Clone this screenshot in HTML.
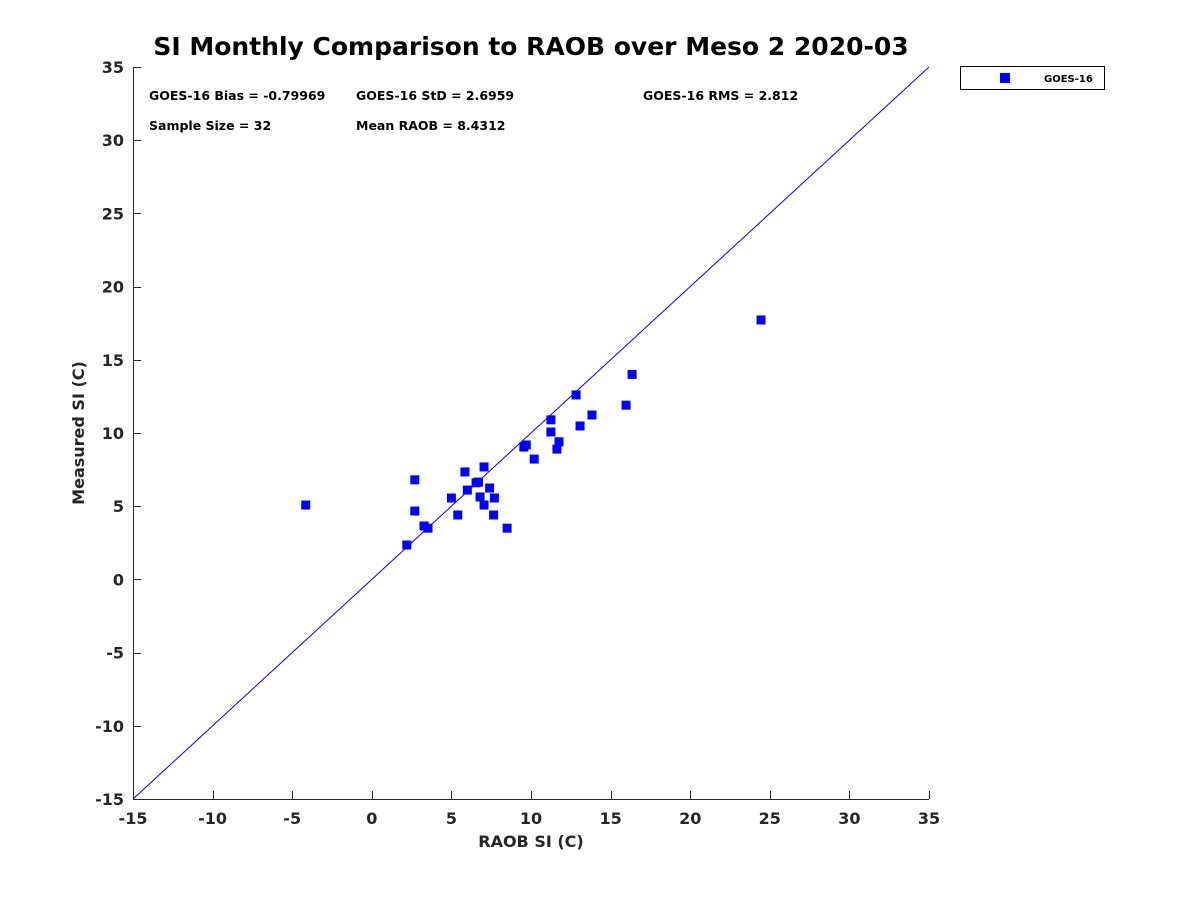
<!DOCTYPE html>
<html><head><meta charset="utf-8"><style>
body{margin:0;background:#fff;font-family:"Liberation Sans","DejaVu Sans",sans-serif}
</style></head><body>
<svg id="c" width="1200" height="900" xmlns="http://www.w3.org/2000/svg">
<rect width="1200" height="900" fill="#fff"/>
<text x="531" y="55" text-anchor="middle" font-family="DejaVu Sans, sans-serif" font-weight="bold" font-size="25" fill="#000">SI Monthly Comparison to RAOB over Meso 2 2020-03</text>
<g id="axes"></g>
<g id="pts"></g>
<g font-family="DejaVu Sans, sans-serif" font-weight="bold" font-size="12.5" fill="#000">
<text x="149" y="100">GOES-16 Bias = -0.79969</text>
<text x="356" y="100">GOES-16 StD = 2.6959</text>
<text x="643" y="100">GOES-16 RMS = 2.812</text>
<text x="149" y="130">Sample Size = 32</text>
<text x="356" y="130">Mean RAOB = 8.4312</text>
</g>
<g>
<rect x="960.5" y="66.5" width="144" height="23" fill="#fff" stroke="#000"/>
<rect x="1000" y="73" width="10" height="10" fill="#0000ff"/>
<text x="1044" y="82" font-family="DejaVu Sans, sans-serif" font-weight="bold" font-size="10">GOES-16</text>
</g>
<text x="531" y="847" text-anchor="middle" font-family="DejaVu Sans, sans-serif" font-weight="bold" font-size="16" fill="#262626">RAOB SI (C)</text>
<text transform="translate(84,433) rotate(-90)" text-anchor="middle" font-family="DejaVu Sans, sans-serif" font-weight="bold" font-size="16" fill="#262626">Measured SI (C)</text>
</svg>
<script>
const raobX=[-4.15,2.2,2.7,2.7,3.28,3.53,5.0,5.4,5.85,6.0,6.55,6.7,6.8,7.05,7.05,7.4,7.65,7.7,8.5,9.55,9.7,10.2,11.25,11.25,11.63,11.76,12.83,13.08,13.83,15.97,16.35,24.45];
const measY=[5.08,2.35,6.8,4.67,3.65,3.5,5.56,4.4,7.34,6.1,6.6,6.65,5.63,7.68,5.08,6.24,4.4,5.56,3.5,9.04,9.18,8.22,10.07,10.9,8.9,9.4,12.6,10.48,11.23,11.9,14.0,17.72];
const ticks=[-15,-10,-5,0,5,10,15,20,25,30,35];
const NS='http://www.w3.org/2000/svg';
const X0=133,X1=929,Y0=799,Y1=67,MIN=-15,MAX=35;
const sx=v=>X0+(v-MIN)/(MAX-MIN)*(X1-X0);
const sy=v=>Y0-(v-MIN)/(MAX-MIN)*(Y0-Y1);
function mk(t,a,p){const e=document.createElementNS(NS,t);for(const k in a)e.setAttribute(k,a[k]);p.appendChild(e);return e;}
const ax=document.getElementById('axes');
const xl=mk('line',{x1:X0,y1:Y0+.5,x2:X1,y2:Y0+.5,stroke:'#262626'},ax);


const yl=mk('line',{x1:X0+.5,y1:Y1,x2:X0+.5,y2:Y0,stroke:'#262626'},ax);


ticks.forEach(t=>{
 const x=Math.round(sx(t))+.5,y=Math.round(sy(t))+.5;
 mk('line',{x1:x,y1:Y0,x2:x,y2:Y0-8,stroke:'#262626'},ax);
 mk('line',{x1:X0,y1:y,x2:X0+8,y2:y,stroke:'#262626'},ax);
 const tx=mk('text',{x:sx(t),y:Y0+25,'text-anchor':'middle','font-family':'DejaVu Sans, sans-serif','font-weight':'bold','font-size':16,fill:'#262626'},ax);
 tx.textContent=t;
 
 
 const ty=mk('text',{x:X0-9,y:sy(t)+6,'text-anchor':'end','font-family':'DejaVu Sans, sans-serif','font-weight':'bold','font-size':16,fill:'#262626'},ax);
 ty.textContent=t;
 
 
});
const ol=mk('line',{x1:sx(MIN),y1:sy(MIN),x2:sx(MAX),y2:sy(MAX),stroke:'#0000ff','stroke-width':1},ax);


const pg=document.getElementById('pts');
raobX.forEach((v,i)=>{
 const r=mk('rect',{x:sx(v)-4.5,y:sy(measY[i])-4.5,width:9,height:9,fill:'#0000ff'},pg);
 
 
});
</script>
</body></html>
